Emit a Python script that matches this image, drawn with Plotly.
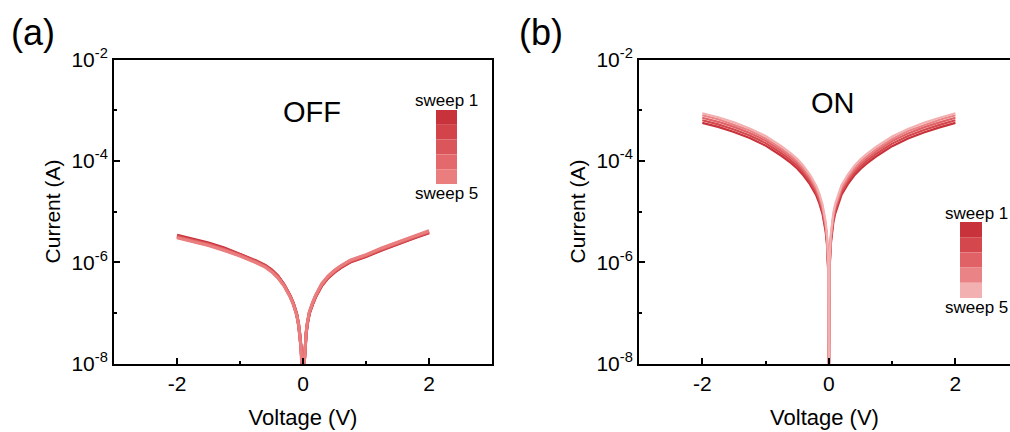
import plotly.graph_objects as go

# ---------------- data ----------------
voltage = [-2.0, -1.75, -1.5, -1.25, -1.0, -0.75, -0.6, -0.5, -0.4, -0.3,
           -0.2, -0.15, -0.1, -0.07, -0.05, -0.03, -0.01, 0.0, 0.01, 0.03,
           0.05, 0.07, 0.1, 0.15, 0.2, 0.3, 0.4, 0.5, 0.6, 0.75,
           1.0, 1.25, 1.5, 1.75, 2.0]

# log10(current / A)
off_sweep1 = [-5.47, -5.54, -5.62, -5.72, -5.84, -5.97, -6.06, -6.15, -6.27, -6.44, -6.67, -6.82, -7.02, -7.21, -7.41, -7.69, -8.2, -9.0, -8.2, -7.71, -7.42, -7.22, -7.02, -6.84, -6.69, -6.46, -6.31, -6.20, -6.11, -6.00, -5.89, -5.76, -5.64, -5.53, -5.42]
off_sweep2 = [-5.49, -5.56, -5.64, -5.74, -5.85, -5.98, -6.07, -6.16, -6.28, -6.45, -6.68, -6.83, -7.03, -7.22, -7.42, -7.70, -8.2, -9.0, -8.2, -7.70, -7.41, -7.21, -7.01, -6.83, -6.68, -6.45, -6.30, -6.19, -6.10, -5.99, -5.88, -5.75, -5.63, -5.52, -5.41]
off_sweep3 = [-5.50, -5.57, -5.65, -5.75, -5.86, -5.99, -6.08, -6.17, -6.29, -6.45, -6.68, -6.83, -7.03, -7.22, -7.42, -7.70, -8.2, -9.0, -8.2, -7.70, -7.40, -7.20, -7.00, -6.82, -6.67, -6.44, -6.29, -6.18, -6.09, -5.98, -5.87, -5.74, -5.62, -5.51, -5.40]
off_sweep4 = [-5.51, -5.58, -5.66, -5.76, -5.87, -6.00, -6.09, -6.18, -6.30, -6.46, -6.69, -6.84, -7.04, -7.23, -7.43, -7.71, -8.2, -9.0, -8.2, -7.69, -7.39, -7.19, -6.99, -6.81, -6.66, -6.43, -6.28, -6.17, -6.08, -5.97, -5.86, -5.73, -5.61, -5.50, -5.39]
off_sweep5 = [-5.52, -5.59, -5.67, -5.77, -5.88, -6.01, -6.10, -6.19, -6.31, -6.47, -6.70, -6.85, -7.05, -7.24, -7.44, -7.72, -8.2, -9.0, -8.2, -7.68, -7.38, -7.18, -6.98, -6.80, -6.65, -6.42, -6.27, -6.16, -6.07, -5.96, -5.85, -5.72, -5.60, -5.49, -5.38]

on_sweep1 = [-3.25, -3.33, -3.43, -3.55, -3.70, -3.90, -4.04, -4.15, -4.29, -4.46, -4.68, -4.84, -5.05, -5.23, -5.40, -5.65, -6.2, -9.0, -6.2, -5.65, -5.40, -5.22, -5.04, -4.83, -4.67, -4.46, -4.29, -4.16, -4.05, -3.91, -3.71, -3.56, -3.44, -3.34, -3.25]
on_sweep2 = [-3.20, -3.28, -3.38, -3.50, -3.65, -3.85, -3.99, -4.10, -4.24, -4.41, -4.63, -4.79, -5.00, -5.18, -5.35, -5.60, -6.15, -9.0, -6.15, -5.60, -5.35, -5.17, -4.99, -4.78, -4.62, -4.41, -4.24, -4.11, -4.00, -3.86, -3.66, -3.51, -3.39, -3.29, -3.20]
on_sweep3 = [-3.15, -3.23, -3.33, -3.45, -3.60, -3.80, -3.94, -4.05, -4.19, -4.36, -4.58, -4.74, -4.95, -5.13, -5.30, -5.55, -6.1, -9.0, -6.1, -5.55, -5.30, -5.12, -4.94, -4.73, -4.57, -4.36, -4.19, -4.06, -3.95, -3.81, -3.61, -3.46, -3.34, -3.24, -3.15]
on_sweep4 = [-3.10, -3.18, -3.29, -3.40, -3.56, -3.76, -3.90, -4.01, -4.15, -4.32, -4.54, -4.70, -4.91, -5.09, -5.26, -5.51, -6.05, -9.0, -6.05, -5.51, -5.26, -5.08, -4.90, -4.69, -4.53, -4.32, -4.15, -4.02, -3.91, -3.77, -3.57, -3.41, -3.30, -3.19, -3.10]
on_sweep5 = [-3.06, -3.14, -3.24, -3.36, -3.51, -3.71, -3.85, -3.96, -4.10, -4.27, -4.49, -4.65, -4.86, -5.04, -5.21, -5.46, -6.0, -9.0, -6.0, -5.46, -5.21, -5.03, -4.85, -4.64, -4.48, -4.27, -4.10, -3.97, -3.86, -3.72, -3.52, -3.37, -3.25, -3.15, -3.06]

off_sweeps = [off_sweep1, off_sweep2, off_sweep3, off_sweep4, off_sweep5]
on_sweeps = [on_sweep1, on_sweep2, on_sweep3, on_sweep4, on_sweep5]
sweep_names = ["sweep 1", "sweep 2", "sweep 3", "sweep 4", "sweep 5"]

off_colors = ["#C8323A", "#D2434A", "#DB565B", "#E3696C", "#EA7D7E"]
on_colors = ["#C8323A", "#D4474C", "#E06266", "#EA8386", "#F2B0B0"]

x_tickvals = [-2, 0, 2]
x_ticktext = ["-2", "0", "2"]
x_minor = [-1, 1]
y_tickvals = [1e-8, 1e-6, 1e-4, 1e-2]
y_ticktext = ["10<sup>-8</sup>", "10<sup>-6</sup>", "10<sup>-4</sup>", "10<sup>-2</sup>"]
y_minor = [1e-7, 1e-5, 1e-3]

# ---------------- figure ----------------
W, H = 1010, 432
FONT = "Arial, Liberation Sans, sans-serif"

fig = go.Figure()

for i in range(5):
    fig.add_trace(go.Scatter(
        x=voltage, y=[10 ** v for v in off_sweeps[i]], mode="lines",
        line=dict(color=off_colors[i], width=3), name=sweep_names[i],
        xaxis="x", yaxis="y", showlegend=False))
for i in range(5):
    fig.add_trace(go.Scatter(
        x=voltage, y=[10 ** v for v in on_sweeps[i]], mode="lines",
        line=dict(color=on_colors[i], width=2.2), name=sweep_names[i],
        xaxis="x2", yaxis="y2", showlegend=False))


def px_x(p):
    return p / W


def px_y(p):
    return 1 - p / H


ydom = [px_y(363.5), px_y(59.5)]

xcommon = dict(tickvals=x_tickvals, ticktext=x_ticktext, ticks="inside",
               ticklen=6, tickwidth=2, automargin=False,
               tickcolor="black", showline=True, linewidth=2, linecolor="black",
               mirror=True, showgrid=False, zeroline=False,
               tickfont=dict(family=FONT, size=21, color="black"),
               minor=dict(tickvals=x_minor, ticks="inside", ticklen=3,
                          tickwidth=2, tickcolor="black", showgrid=False),
               title=dict(text="Voltage (V)", standoff=16,
                          font=dict(family=FONT, size=22, color="black")))
ycommon = dict(type="log", range=[-8, -2], tickvals=y_tickvals,
               ticktext=y_ticktext, ticks="inside", ticklen=6, tickwidth=2,
               tickcolor="black", showline=True, linewidth=2, automargin=False,
               linecolor="black", showgrid=False, zeroline=False,
               tickfont=dict(family=FONT, size=21, color="black"),
               minor=dict(tickvals=y_minor, ticks="inside", ticklen=3,
                          tickwidth=2, tickcolor="black", showgrid=False),
               title=dict(text="Current (A)", standoff=5,
                          font=dict(family=FONT, size=21, color="black")))

fig.update_layout(
    width=W, height=H,
    margin=dict(l=0, r=0, t=0, b=0, autoexpand=False),
    paper_bgcolor="white", plot_bgcolor="white",
    font=dict(family=FONT, color="black"),
    xaxis=dict(domain=[px_x(114), px_x(492)], range=[-3, 3],
               anchor="y", **xcommon),
    yaxis=dict(domain=ydom, anchor="x", mirror=True, **ycommon),
    xaxis2=dict(domain=[px_x(639), 1.0], range=[-3, 2.862],
                anchor="y2", **xcommon),
    yaxis2=dict(domain=ydom, anchor="x2", mirror=False, **ycommon),
)

annotations = [
    dict(text="(a)", x=px_x(33), y=px_y(33), font=dict(size=36)),
    dict(text="(b)", x=px_x(541), y=px_y(33), font=dict(size=36)),
    dict(text="OFF", x=px_x(312), y=px_y(112), font=dict(size=29)),
    dict(text="ON", x=px_x(833), y=px_y(103), font=dict(size=29)),
    dict(text="sweep 1", x=px_x(446), y=px_y(100), font=dict(size=17)),
    dict(text="sweep 5", x=px_x(446), y=px_y(193), font=dict(size=17)),
    dict(text="sweep 1", x=px_x(976), y=px_y(213), font=dict(size=17)),
    dict(text="sweep 5", x=px_x(976), y=px_y(307), font=dict(size=17)),
]
for a in annotations:
    a.update(xref="paper", yref="paper", showarrow=False,
             xanchor="center", yanchor="middle")
    a["font"].update(family=FONT, color="black")
fig.update_layout(annotations=annotations)

# colour-scale legend blocks
shapes = []
a_top, a_bot = 110, 184
for i, c in enumerate(off_colors):
    h = (a_bot - a_top) / 5
    shapes.append(dict(type="rect", xref="paper", yref="paper",
                       x0=px_x(436), x1=px_x(457),
                       y0=px_y(a_top + (i + 1) * h), y1=px_y(a_top + i * h),
                       fillcolor=c, line=dict(width=0)))
b_top, b_bot = 222, 298
for i, c in enumerate(on_colors):
    h = (b_bot - b_top) / 5
    shapes.append(dict(type="rect", xref="paper", yref="paper",
                       x0=px_x(960), x1=px_x(982),
                       y0=px_y(b_top + (i + 1) * h), y1=px_y(b_top + i * h),
                       fillcolor=c, line=dict(width=0)))
fig.update_layout(shapes=shapes)

fig.write_html("out.html")
